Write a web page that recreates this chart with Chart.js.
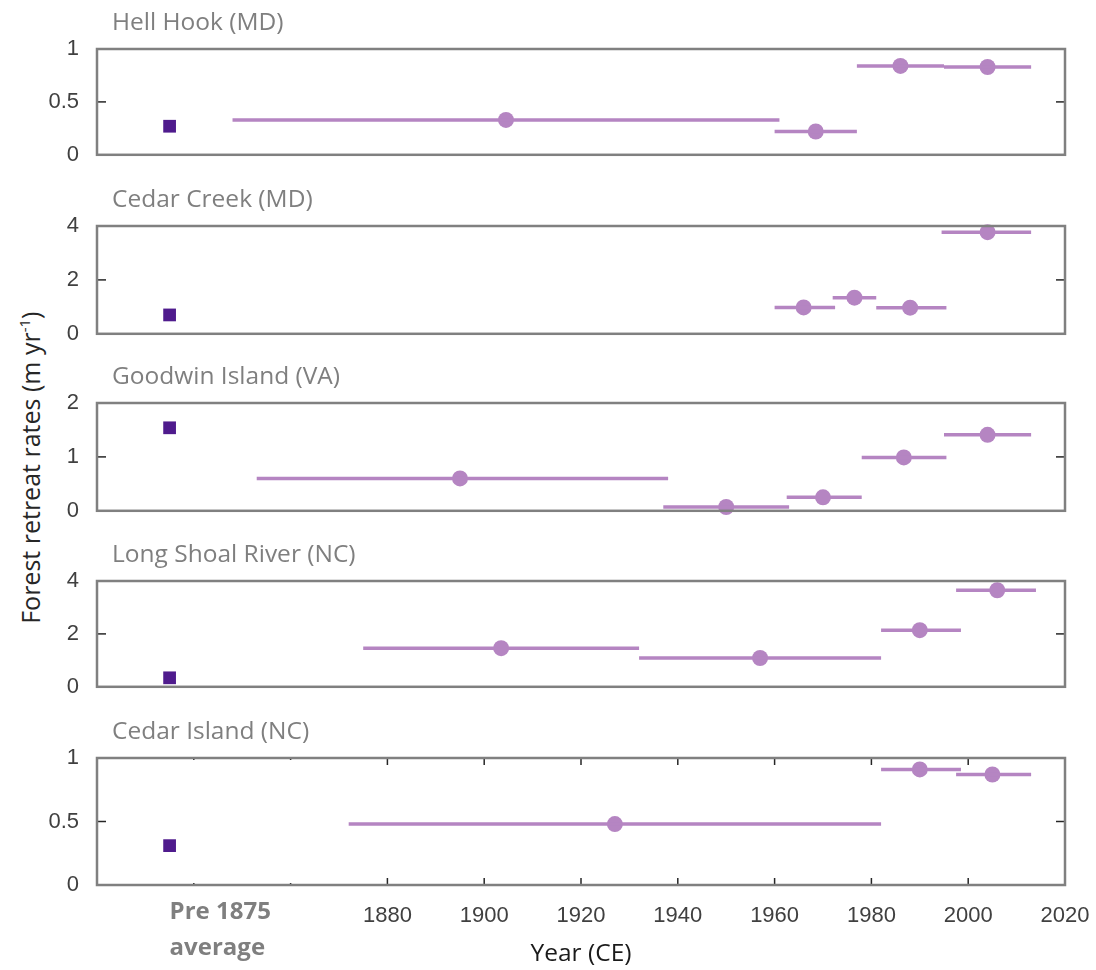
<!DOCTYPE html>
<html>
<head>
<meta charset="utf-8">
<script src="https://cdn.jsdelivr.net/npm/chart.js"></script>
<style>
body { margin: 0; background: #fff; }
#wrap { position: relative; width: 1096px; height: 970px; overflow: hidden; }
#wrap canvas { position: absolute; left: 0; }
#ytitle {
    position: absolute; left: -213px; top: 450px; width: 480px; line-height: 30px;
    text-align: center; transform: rotate(-90deg);
    font-family: "Open Sans", sans-serif; font-size: 25px; color: #262626;
}
#ytitle sup { font-size: 15px; }
</style>
</head>
<body>
<div id="wrap">
    <div id="ytitle">Forest retreat rates (m yr<sup>-1</sup>)</div>
</div>
<script>
// Sites, top to bottom
const sites = ["Hell Hook (MD)", "Cedar Creek (MD)", "Goodwin Island (VA)", "Long Shoal River (NC)", "Cedar Island (NC)"];
const yMax = [1, 4, 2, 4, 1];

// Pre 1875 average (drawn as a square at a fixed year slot)
const preYear = 1835;
const preAverage = [0.27, 0.7, 1.54, 0.34, 0.31];

// Dated periods: start year, end year, mid year, rate (m/yr)
const periodStart = [
    [1848, 1960, 1977, 1995],
    [1960, 1972, 1981, 1994.5],
    [1853, 1937, 1962.5, 1978, 1995],
    [1875, 1932, 1982, 1997.5],
    [1872, 1982, 1997.5]
];
const periodEnd = [
    [1961, 1977, 1995, 2013],
    [1972.5, 1981, 1995.5, 2013],
    [1938, 1963, 1978, 1995.5, 2013],
    [1932, 1982, 1998.5, 2014],
    [1982, 1998.5, 2013]
];
const periodMid = [
    [1904.5, 1968.5, 1986, 2004],
    [1966, 1976.5, 1988, 2004],
    [1895, 1950, 1970, 1986.7, 2004],
    [1903.5, 1957, 1990, 2006],
    [1927, 1990, 2005]
];
const periodRate = [
    [0.33, 0.22, 0.84, 0.83],
    [0.98, 1.34, 0.97, 3.77],
    [0.6, 0.07, 0.25, 0.99, 1.41],
    [1.46, 1.09, 2.14, 3.65],
    [0.48, 0.91, 0.87]
];

// x axis
const xMin = 1820, xMax = 2020, xStep = 20;
const firstLabelledYear = 1880;

// panel frame tops and heights in the page
const frameTop = [49, 226, 403, 581, 758];
const frameHeight = [125, 127, 127, 125, 127];

const lineColor = "#b585c2";
const squareColor = "#4f1b8d";
const TOP_SPACE = 45;
const X_AXIS_HEIGHT = 84;

// frame, inward ticks, panel title and the pre-1875 label
const framePlugin = {
    id: "frame",
    afterDatasetsDraw(chart, args, opts) {
        const { ctx, chartArea: a, scales } = chart;
        ctx.save();
        ctx.strokeStyle = "#262626";
        ctx.lineWidth = 1.5;
        const seg = (x1, y1, x2, y2) => { ctx.beginPath(); ctx.moveTo(x1, y1); ctx.lineTo(x2, y2); ctx.stroke(); };
        scales.y.ticks.forEach(t => {
            const y = scales.y.getPixelForValue(t.value);
            seg(a.left, y, a.left + 9, y);
            seg(a.right, y, a.right - 9, y);
        });
        if (opts.bottom) {
            scales.x.ticks.forEach(t => {
                const x = scales.x.getPixelForValue(t.value);
                const len = t.value < firstLabelledYear ? 2 : 7;
                seg(x, a.bottom, x, a.bottom - len);
                seg(x, a.top, x, a.top + len);
            });
        }
        ctx.strokeStyle = "#808080";
        ctx.lineWidth = 2.5;
        ctx.strokeRect(a.left, a.top, a.width, a.height);

        ctx.fillStyle = "#7f7f7f";
        ctx.font = '24.5px "Open Sans"';
        ctx.textBaseline = "middle";
        ctx.textAlign = "left";
        ctx.fillText(opts.title, a.left + 15, a.top - 26);

        if (opts.bottom) {
            const px = scales.x.getPixelForValue(preYear);
            ctx.font = 'bold 24px "Open Sans"';
            ctx.fillText("Pre 1875", px, a.bottom + 27);
            ctx.fillText("average", px, a.bottom + 63);
        }
        ctx.restore();
    }
};

const wrap = document.getElementById("wrap");

sites.forEach((site, i) => {
    const isBottom = i === sites.length - 1;
    const canvas = document.createElement("canvas");
    const top = frameTop[i] - TOP_SPACE;
    const height = isBottom ? 970 - top : frameHeight[i] + TOP_SPACE + 4;
    canvas.width = 1096;
    canvas.height = height;
    canvas.style.top = top + "px";
    wrap.appendChild(canvas);

    const datasets = [];
    periodStart[i].forEach((s, k) => {
        datasets.push({
            type: "line",
            data: [{ x: s, y: periodRate[i][k] }, { x: periodEnd[i][k], y: periodRate[i][k] }],
            borderColor: lineColor, borderWidth: 3.5, pointRadius: 0, clip: false
        });
    });
    datasets.push({
        data: periodMid[i].map((m, k) => ({ x: m, y: periodRate[i][k] })),
        backgroundColor: lineColor, borderWidth: 0, pointRadius: 8, clip: false
    });
    datasets.push({
        data: [{ x: preYear, y: preAverage[i] }],
        pointStyle: "rect", backgroundColor: squareColor, borderWidth: 0, pointRadius: 9, clip: false
    });

    new Chart(canvas, {
        type: "scatter",
        data: { datasets },
        options: {
            responsive: false,
            animation: false,
            events: [],
            layout: {
                padding: {
                    top: TOP_SPACE, left: 0, right: 31,
                    bottom: isBottom ? height - TOP_SPACE - frameHeight[i] - X_AXIS_HEIGHT : 4
                }
            },
            plugins: {
                legend: { display: false },
                tooltip: { enabled: false },
                frame: { title: site, bottom: isBottom }
            },
            scales: {
                x: {
                    type: "linear", min: xMin, max: xMax,
                    display: isBottom,
                    grid: { display: false },
                    border: { display: false },
                    ticks: {
                        stepSize: xStep, autoSkip: false, maxRotation: 0, padding: 10,
                        color: "#404040", font: { family: "Liberation Sans", size: 22 },
                        callback: v => (v >= firstLabelledYear ? v : "")
                    },
                    title: {
                        display: true, text: "Year (CE)", color: "#1a1a1a",
                        font: { family: "Open Sans", size: 24.5 }, padding: { top: 0, bottom: 0 }
                    },
                    afterFit: s => {
                        if (!isBottom) return;
                        s.height = X_AXIS_HEIGHT;
                        s.paddingLeft = 0;
                        s.paddingRight = 0;
                    }
                },
                y: {
                    min: 0, max: yMax[i],
                    grid: { display: false },
                    border: { display: false },
                    ticks: {
                        stepSize: yMax[i] / 2, padding: 10,
                        color: "#404040", font: { family: "Liberation Sans", size: 22 },
                        callback: v => String(v)
                    },
                    afterFit: s => { s.width = 97; }
                }
            }
        },
        plugins: [framePlugin]
    });
});
</script>
</body>
</html>
